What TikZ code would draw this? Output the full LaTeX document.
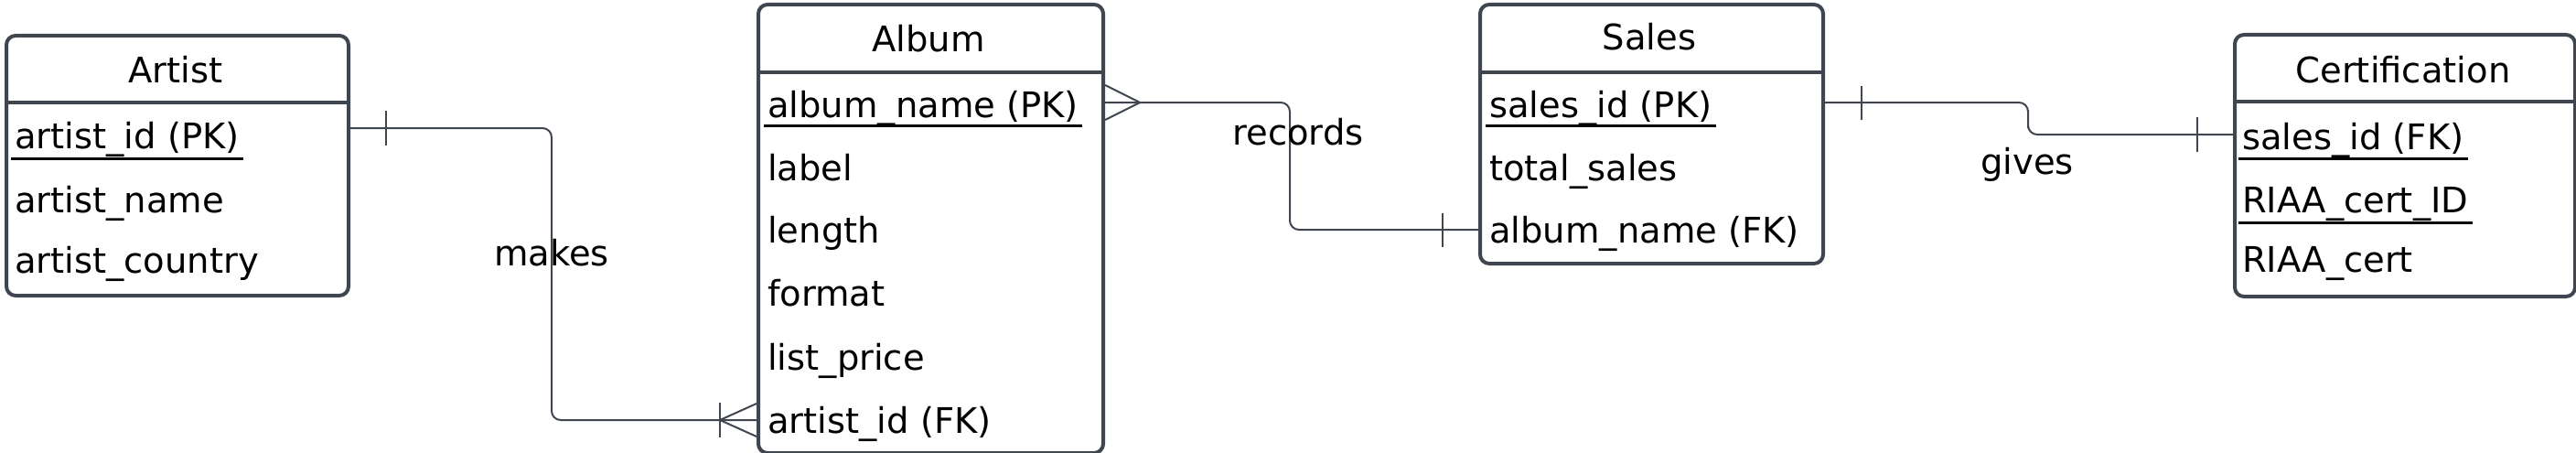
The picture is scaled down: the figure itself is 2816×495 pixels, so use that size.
\documentclass[tikz,border=0pt]{standalone}
\usepackage{fontspec}
\setmainfont{DejaVu Sans}
\definecolor{linec}{RGB}{64,70,80}
\begin{document}
\begin{tikzpicture}[x=1pt,y=-1pt,
  entity/.style={draw=linec, line width=4pt, rounded corners=10pt, fill=white, inner sep=0pt, anchor=north west},
  hdr/.style={anchor=base, inner sep=0pt, font=\fontsize{38.5}{46}\selectfont},
  row/.style={anchor=base west, inner sep=0pt, font=\fontsize{38.5}{46}\selectfont},
  divider/.style={draw=linec, line width=4pt},
  uline/.style={draw=black, line width=3pt},
  conn/.style={draw=linec, line width=2pt, rounded corners=10pt},
  crow/.style={draw=linec, line width=2pt},
  lbl/.style={inner sep=0pt, font=\fontsize{38.5}{46}\selectfont}]
\useasboundingbox (0,0) rectangle (2816,495);
% entities
\node[entity, minimum width=374pt, minimum height=284pt] (artist) at (5,37) {};
\node[entity, minimum width=377pt, minimum height=490pt] (album) at (827,3) {};
\node[entity, minimum width=375pt, minimum height=283pt] (sales) at (1616,3) {};
\node[entity, minimum width=372pt, minimum height=286pt] (cert) at (2441,36) {};
% dividers
\draw[divider] ([yshift=-75pt]artist.north west) -- ([yshift=-75pt]artist.north east);
\draw[divider] ([yshift=-76pt]album.north west) -- ([yshift=-76pt]album.north east);
\draw[divider] ([yshift=-76pt]sales.north west) -- ([yshift=-76pt]sales.north east);
\draw[divider] ([yshift=-75pt]cert.north west) -- ([yshift=-75pt]cert.north east);
% headers
\node[hdr] (artistH) at (192,90) {Artist};
\node[hdr] (albumH) at (1015,57) {Album};
\node[hdr] (salesH) at (1803,55) {Sales};
\node[hdr] (certH) at (2627,90) {Certification};
% artist rows
\node[row] (ar1) at (16,162) {artist\_id (PK)};
\node[row] (ar2) at (16,232) {artist\_name};
\node[row] (ar3) at (16,298) {artist\_country};
% album rows
\node[row] (al1) at (839,128) {album\_name (PK)};
\node[row] (al2) at (839,197) {label};
\node[row] (al3) at (839,265) {length};
\node[row] (al4) at (839,334) {format};
\node[row] (al5) at (839,404) {list\_price};
\node[row] (al6) at (839,473) {artist\_id (FK)};
% sales rows
\node[row] (sa1) at (1628,128) {sales\_id (PK)};
\node[row] (sa2) at (1628,197) {total\_sales};
\node[row] (sa3) at (1628,265) {album\_name (FK)};
% cert rows
\node[row] (ce1) at (2451,163) {sales\_id (FK)};
\node[row] (ce2) at (2451,232) {RIAA\_cert\_ID};
\node[row] (ce3) at (2451,297) {RIAA\_cert};
% underlines
\draw[uline] ([xshift=-4pt,yshift=-11pt]ar1.base west) -- ([xshift=4pt,yshift=-11pt]ar1.base east);
\draw[uline] ([xshift=-4pt,yshift=-9pt]al1.base west) -- ([xshift=4pt,yshift=-9pt]al1.base east);
\draw[uline] ([xshift=-4pt,yshift=-9pt]sa1.base west) -- ([xshift=4pt,yshift=-9pt]sa1.base east);
\draw[uline] ([xshift=-4pt,yshift=-10pt]ce1.base west) -- ([xshift=4pt,yshift=-10pt]ce1.base east);
\draw[uline] ([xshift=-4pt,yshift=-11pt]ce2.base west) -- ([xshift=4pt,yshift=-11pt]ce2.base east);
% connector anchor heights
\coordinate (yA) at (0,140);
\coordinate (yB) at (0,459);
\coordinate (yC) at (0,112);
\coordinate (yD) at (0,251);
\coordinate (yE) at (0,112);
\coordinate (yF) at (0,147);
\coordinate (mkX) at (603,300);
\coordinate (reX) at (1410,180);
\coordinate (giX) at (2217,130);
% makes
\draw[conn] (artist.east |- yA) -| (mkX) |- (album.west |- yB);
\draw[crow] ([xshift=39pt]artist.east |- yA) ++(0,-19) -- ++(0,38);
\draw[crow] ([xshift=-40pt]album.west |- yB) ++(0,-19) -- ++(0,38);
\draw[crow] ([xshift=-40pt]album.west |- yB) -- ([yshift=18pt]album.west |- yB);
\draw[crow] ([xshift=-40pt]album.west |- yB) -- ([yshift=-18pt]album.west |- yB);
\node[lbl] (mkL) at (603,276) {makes};
% records
\draw[conn] (album.east |- yC) -| (reX) |- (sales.west |- yD);
\draw[crow] ([xshift=38pt]album.east |- yC) -- ([yshift=19pt]album.east |- yC);
\draw[crow] ([xshift=38pt]album.east |- yC) -- ([yshift=-19pt]album.east |- yC);
\draw[crow] ([xshift=-39pt]sales.west |- yD) ++(0,-18) -- ++(0,37);
\node[lbl] (reL) at (1419,144) {records};
% gives
\draw[conn] (sales.east |- yE) -| (giX) |- (cert.west |- yF);
\draw[crow] ([xshift=40pt]sales.east |- yE) ++(0,-18) -- ++(0,37);
\draw[crow] ([xshift=-39pt]cert.west |- yF) ++(0,-19) -- ++(0,38);
\node[lbl] (giL) at (2216,180) {gives};
\end{tikzpicture}
\end{document}
